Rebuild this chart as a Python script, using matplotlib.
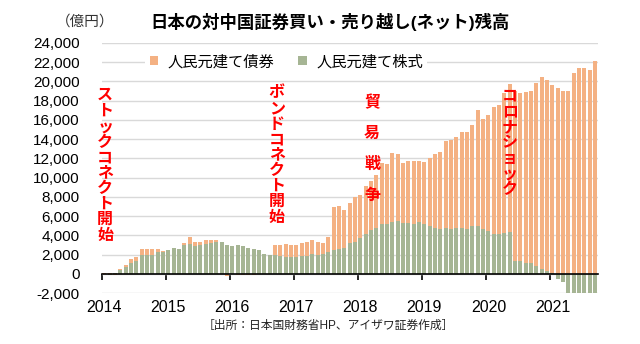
import numpy as np
import matplotlib
matplotlib.use("Agg")
import matplotlib.pyplot as plt
from matplotlib.ticker import FuncFormatter

plt.rcParams['font.family'] = ['Liberation Sans', 'Noto Sans CJK JP', 'DejaVu Sans']

# 月次残高(億円) 2014年1月～2021年9月
years = [2014, 2015, 2016, 2017, 2018, 2019, 2020, 2021]

stock_bal = [
    0, -150, 80, 420, 700, 1180, 1320, 1980, 1980, 1980, 2230, 2300,          # 2014
    2430, 2640, 2540, 2950, 3120, 2850, 2950, 3090, 3170, 3360, 3260, 2970,   # 2015
    2850, 2950, 2850, 2730, 2620, 2430, 2020, 1910, 1950, 1830, 1710, 1710,   # 2016
    1710, 1850, 1830, 2020, 1910, 2050, 2230, 2430, 2540, 2640, 3160, 3360,   # 2017
    3750, 4150, 4600, 4810, 5230, 5230, 5430, 5540, 5330, 5330, 5190, 5430,   # 2018
    5230, 5020, 4810, 4710, 4810, 4710, 4810, 4810, 4710, 4950, 4950, 4710,   # 2019
    4500, 4190, 4190, 4290, 4400, 1300, 1300, 1100, 1100, 800, 550, 250,      # 2020
    50, -550, -850, -2500, -2500, -2500, -2500, -2500, -2500,                 # 2021
]

bond_bal = [
    100, 100, -120, 100, 200, 330, 420, 560, 560, 560, 310, 60,
    0, 0, 0, 210, 660, 410, 310, 380, 300, 110, 0, -250,
    0, -150, -100, -100, -100, 0, 0, 0, 1000, 1220, 1380, 1300,
    1270, 1310, 1530, 1450, 1350, 1110, 1650, 4560, 4550, 4040, 4240, 4660,
    4480, 5010, 5080, 5490, 6310, 6210, 7150, 6930, 6210, 6420, 6560, 6320,
    6410, 7040, 7660, 7970, 9010, 9250, 9420, 9970, 10070, 10520, 12080, 11390,
    12010, 13150, 13350, 14480, 15320, 17690, 17480, 17820, 17950, 19000, 19950, 19930,
    19630, 19370, 19000, 18980, 20920, 21430, 21430, 21200, 22140,
]

# (テキスト, x位置, 上端y位置, 文字間隔) 軸座標
events = [
    ("ストックコネクト開始", 0.007, 0.790, 0.062),
    ("ボンドコネクト開始", 0.3526, 0.800, 0.062),
    ("貿易戦争", 0.545, 0.762, 0.124),
    ("コロナショック", 0.823, 0.787, 0.062),
]

green = '#A6B594'
orange = '#F4B183'

stock = np.array(stock_bal, dtype=float)
bond = np.array(bond_bal, dtype=float)
x = np.arange(len(stock))
bond_bottom = np.where(bond >= 0, np.maximum(stock, 0), np.minimum(stock, 0))

fig = plt.figure(figsize=(6.4, 3.44), dpi=100)
ax = fig.add_axes([0.159, 0.148, 0.775, 0.727])

b_stock = ax.bar(x, stock, width=0.75, color=green, zorder=2, label='人民元建て株式')
b_bond = ax.bar(x, bond, width=0.75, bottom=bond_bottom, color=orange, zorder=2,
                label='人民元建て債券')

ax.set_xlim(-0.5, len(x) - 0.5)
ax.set_ylim(-2000, 24000)
ax.set_yticks(np.arange(-2000, 24001, 2000))
ax.yaxis.set_major_formatter(FuncFormatter(lambda v, pos: f'{v:,.0f}'))
ax.tick_params(axis='y', length=0, pad=16, labelsize=11)
ax.yaxis.grid(True, color='#D9D9D9', linewidth=1.0, zorder=0)

for s in ['left', 'right', 'top']:
    ax.spines[s].set_visible(False)
ax.spines['bottom'].set_position(('data', 0))
ax.spines['bottom'].set_linewidth(1.2)
ax.spines['bottom'].set_zorder(3)
ax.set_xticks(np.arange(len(years)) * 12 - 0.5)
ax.tick_params(axis='x', direction='out', length=4, width=1.2, labelbottom=False)

sec = ax.secondary_xaxis('bottom')
sec.set_xticks(np.arange(len(years)) * 12)
sec.set_xticklabels([str(y) for y in years])
sec.tick_params(length=0, pad=5, labelsize=11.5)
sec.spines['bottom'].set_visible(False)

leg = ax.legend(handles=[b_bond, b_stock], loc='center', bbox_to_anchor=(0.372, 0.924),
                ncol=2, frameon=True, fontsize=11, handlelength=0.55, handleheight=0.55,
                handletextpad=0.6, columnspacing=1.6, borderpad=0.3)
leg.get_frame().set_facecolor('white')
leg.get_frame().set_edgecolor('none')
leg.get_frame().set_alpha(1)

for text, tx, ty, step in events:
    for i, ch in enumerate(text):
        ax.text(tx, ty - i * step, ch, transform=ax.transAxes, ha='center', va='center',
                color='#FF0000', fontsize=11.5, fontweight='bold', zorder=5, clip_on=False)

fig.text(0.516, 0.936, '日本の対中国証券買い・売り越し(ネット)残高', ha='center', va='center',
         fontsize=12.5, fontweight='bold')
fig.text(0.133, 0.936, '（億円）', ha='center', va='center', fontsize=10.5, color='#333333')
fig.text(0.513, 0.052, '［出所：日本国財務省HP、アイザワ証券作成］', ha='center', va='center',
         fontsize=8.5, color='#222222')

fig.savefig('out.png', dpi=100)
